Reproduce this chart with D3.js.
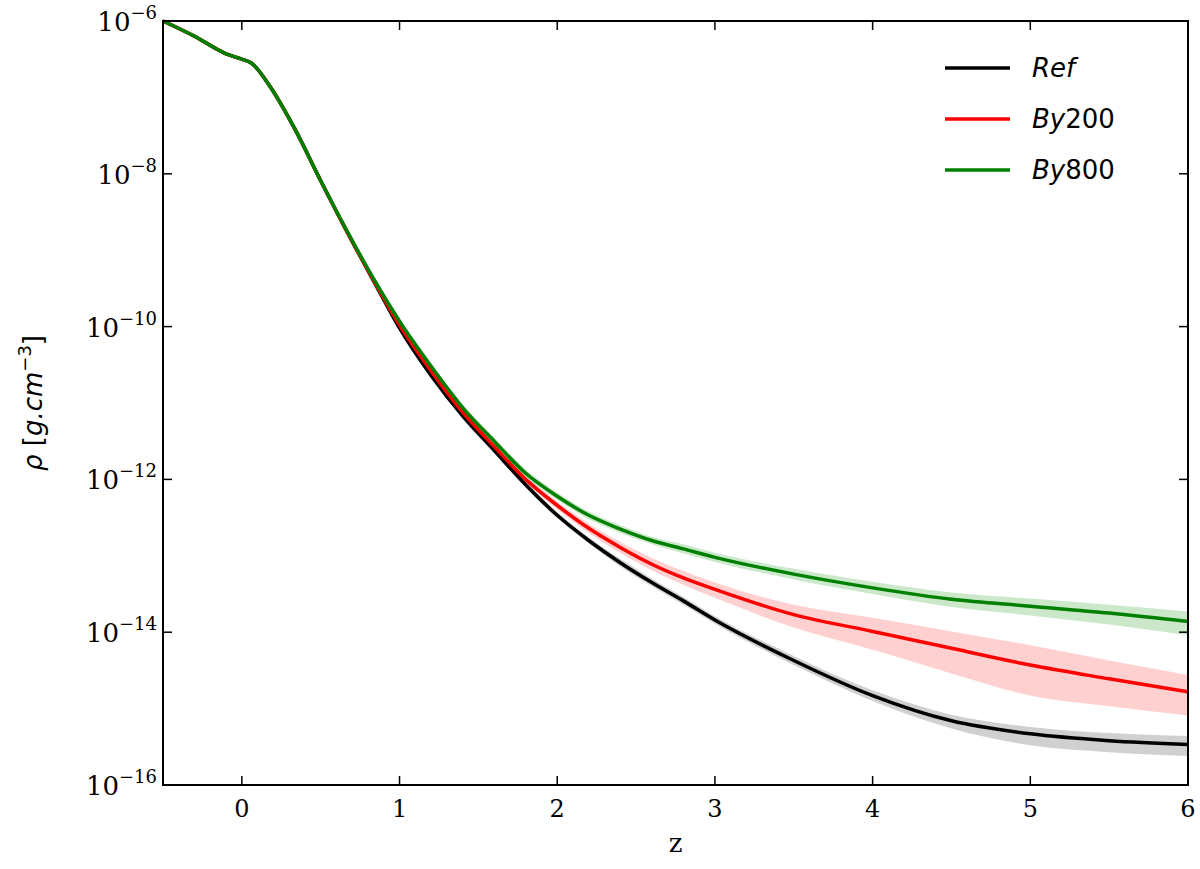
<!DOCTYPE html>
<html><head><meta charset="utf-8">
<script src="https://cdn.jsdelivr.net/npm/d3@7"></script>
<style>body{margin:0;background:#fff}text{font-family:"DejaVu Serif",serif}</style>
</head><body><svg id="chart" width="1200" height="869"></svg>
<script>
'use strict';
// z samples and log10(rho) per run
const zs      = [-0.5,-0.3,-0.1,0,0.06,0.18,0.33,0.5,0.67,0.84,1,1.2,1.4,1.6,1.8,2,2.2,2.4,2.6,2.8,3,3.5,4,4.5,5,5.5,6];
const refLog  = [-6.0,-6.2,-6.43,-6.5,-6.55,-6.86,-7.39,-8.09,-8.77,-9.42,-10.02,-10.64,-11.17,-11.62,-12.07,-12.47,-12.8,-13.09,-13.35,-13.59,-13.84,-14.37,-14.83,-15.16,-15.33,-15.42,-15.47];
const by200Log= [-6.0,-6.2,-6.43,-6.5,-6.55,-6.86,-7.39,-8.09,-8.77,-9.41,-9.98,-10.58,-11.12,-11.57,-12.0,-12.34,-12.64,-12.89,-13.11,-13.29,-13.44,-13.77,-13.99,-14.21,-14.43,-14.61,-14.78];
const by800Log= [-6.0,-6.2,-6.43,-6.5,-6.55,-6.86,-7.39,-8.09,-8.76,-9.39,-9.93,-10.52,-11.06,-11.5,-11.92,-12.22,-12.47,-12.65,-12.8,-12.91,-13.02,-13.24,-13.42,-13.57,-13.66,-13.75,-13.86];
// band half-widths (decades) above / below the mean
const refUp   = [0,0,0,0,0,0,0,0,0.01,0.02,0.03,0.03,0.03,0.04,0.04,0.04,0.04,0.05,0.05,0.05,0.05,0.06,0.07,0.08,0.09,0.1,0.11];
const refDn   = [0,0,0,0,0,0,0,0,0.01,0.02,0.03,0.03,0.03,0.04,0.04,0.04,0.04,0.05,0.05,0.05,0.05,0.06,0.07,0.1,0.15,0.15,0.15];
const by200Up = [0,0,0,0,0,0,0,0,0.01,0.02,0.02,0.03,0.03,0.03,0.04,0.05,0.06,0.07,0.08,0.09,0.09,0.13,0.18,0.22,0.26,0.24,0.22];
const by200Dn = [0,0,0,0,0,0,0,0,0.01,0.02,0.02,0.03,0.03,0.03,0.04,0.05,0.06,0.07,0.08,0.09,0.11,0.17,0.24,0.33,0.4,0.36,0.31];
const by800Up = [0,0,0,0,0,0,0,0,0.01,0.02,0.03,0.04,0.04,0.05,0.05,0.05,0.05,0.05,0.05,0.06,0.06,0.07,0.08,0.09,0.1,0.11,0.13];
const by800Dn = [0,0,0,0,0,0,0,0,0.01,0.02,0.03,0.04,0.04,0.05,0.05,0.05,0.05,0.05,0.05,0.06,0.06,0.07,0.08,0.1,0.12,0.15,0.18];
const xTicks = [0,1,2,3,4,5,6];
const yTickExps = [-6,-8,-10,-12,-14,-16];

const series = [
  {name:'Ref',   log:refLog,   up:refUp,   dn:refDn,   color:'#000000', fill:'#b0b0b0'},
  {name:'By200', log:by200Log, up:by200Up, dn:by200Dn, color:'#ff0000', fill:'#ffb0b0'},
  {name:'By800', log:by800Log, up:by800Up, dn:by800Dn, color:'#008000', fill:'#a8d8a8'}
];

const L = 163, R = 1188, T = 21, B = 785;
const svg = d3.select('#chart');
const x = d3.scaleLinear().domain([-0.5, 6]).range([L, R]);
const y = d3.scaleLog().domain([1e-16, 1e-6]).range([B, T]);

const g = svg.append('g');
series.forEach(s => {
  const area = d3.area().curve(d3.curveMonotoneX)
    .x((d, i) => x(zs[i]))
    .y0((d, i) => y(10 ** (s.log[i] - s.dn[i])))
    .y1((d, i) => y(10 ** (s.log[i] + s.up[i])));
  g.append('path').attr('d', area(zs)).attr('fill', s.fill).attr('opacity', 0.6);
});
series.forEach(s => {
  const line = d3.line().curve(d3.curveMonotoneX)
    .x((d, i) => x(zs[i])).y((d, i) => y(10 ** s.log[i]));
  g.append('path').attr('d', line(zs)).attr('fill', 'none')
    .attr('stroke', s.color).attr('stroke-width', 3.5);
});

// frame + inward ticks
svg.append('rect').attr('x', L).attr('y', T).attr('width', R - L).attr('height', B - T)
  .attr('fill', 'none').attr('stroke', '#000').attr('stroke-width', 2);
const tk = svg.append('g').attr('stroke', '#000').attr('stroke-width', 1.5);
xTicks.forEach(v => {
  tk.append('line').attr('x1', x(v)).attr('x2', x(v)).attr('y1', B).attr('y2', B - 9);
  tk.append('line').attr('x1', x(v)).attr('x2', x(v)).attr('y1', T).attr('y2', T + 9);
  svg.append('text').attr('x', x(v)).attr('y', B + 32).attr('text-anchor', 'middle')
    .attr('font-size', 24).text(v);
});
yTickExps.forEach(e => {
  const yy = y(10 ** e);
  tk.append('line').attr('x1', L).attr('x2', L + 9).attr('y1', yy).attr('y2', yy);
  tk.append('line').attr('x1', R).attr('x2', R - 9).attr('y1', yy).attr('y2', yy);
  const t = svg.append('text').attr('x', L - 6).attr('y', yy + 10).attr('text-anchor', 'end').attr('font-size', 26);
  t.append('tspan').text('10');
  t.append('tspan').attr('dy', -12).attr('font-size', 18).text('\u2212' + (-e));
});

svg.append('text').attr('x', (L + R) / 2).attr('y', B + 67).attr('text-anchor', 'middle')
  .attr('font-size', 26).text('z');
const yl = svg.append('text').attr('transform', `translate(42,${(T + B) / 2}) rotate(-90)`)
  .attr('text-anchor', 'middle').attr('font-size', 26).style('font-family', 'DejaVu Sans');
yl.append('tspan').attr('font-style', 'italic').text('\u03c1');
yl.append('tspan').text(' [');
yl.append('tspan').attr('font-style', 'italic').text('g.cm');
yl.append('tspan').attr('dy', -11).attr('font-size', 18).text('\u22123');
yl.append('tspan').attr('dy', 11).text(']');

// legend
series.forEach((s, i) => {
  const ly = 68 + i * 51;
  svg.append('line').attr('x1', 945).attr('x2', 1010).attr('y1', ly).attr('y2', ly)
    .attr('stroke', s.color).attr('stroke-width', 3.5);
  const t = svg.append('text').attr('x', 1032).attr('y', ly + 9).attr('font-size', 26)
    .style('font-family', 'DejaVu Sans').attr('font-style', 'italic');
  const m = s.name.match(/^([A-Za-z]+)(\d*)$/);
  t.append('tspan').text(m[1]);
  if (m[2]) t.append('tspan').attr('font-style', 'normal').text(m[2]);
});
</script></body></html>
